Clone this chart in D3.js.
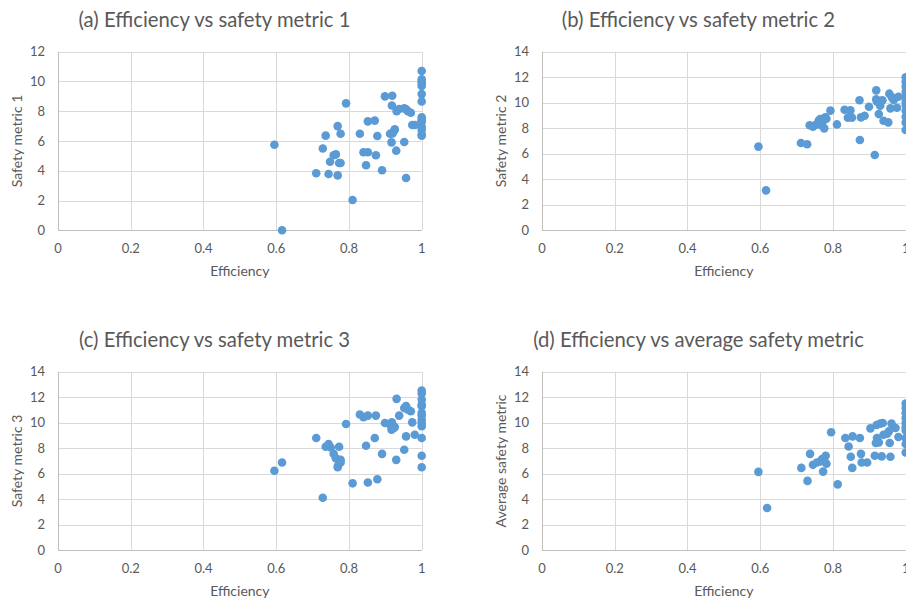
<!DOCTYPE html>
<html>
<head>
<meta charset="utf-8">
<script src="https://cdn.jsdelivr.net/npm/d3@7"></script>
<style>
  body { margin: 0; background: #fff; }
  svg { display: block; }
  text { font-family: Lato, "Open Sans", sans-serif; fill: #595959; }
</style>
</head>
<body>
<div id="theChart"></div>
<script>
// [efficiency, metric] pairs
const metric1 = [
  [0.595, 5.75], [0.616, 0], [0.71, 3.83], [0.728, 5.5], [0.736, 6.36], [0.744, 3.78],
  [0.748, 4.61], [0.758, 5.04], [0.764, 5.1], [0.769, 7.0], [0.769, 3.69], [0.773, 4.52],
  [0.777, 4.52], [0.777, 6.49], [0.792, 8.53], [0.81, 2.04], [0.83, 6.49], [0.84, 5.24],
  [0.847, 4.37], [0.852, 5.24], [0.852, 7.32], [0.871, 7.37], [0.874, 5.04], [0.878, 6.34],
  [0.891, 4.03], [0.899, 9.0], [0.913, 6.49], [0.917, 5.91], [0.918, 8.39], [0.919, 9.04],
  [0.92, 6.51], [0.924, 6.69], [0.926, 6.78], [0.93, 5.35], [0.931, 8.01], [0.938, 8.15],
  [0.952, 8.19], [0.952, 5.93], [0.957, 3.51], [0.957, 8.13], [0.962, 8.01], [0.97, 7.9],
  [0.974, 7.07], [0.981, 7.07],
  [1, 10.7], [1, 10.15], [1, 10.0], [1, 9.85], [1, 9.7], [1, 9.15], [1, 8.65], [1, 7.6],
  [1, 7.4], [1, 7.3], [1, 6.95], [1, 6.75], [1, 6.45], [1, 6.35]
]

const metric2 = [
  [0.595, 6.56], [0.616, 3.13], [0.712, 6.84], [0.729, 6.74], [0.736, 8.23], [0.745, 8.12],
  [0.752, 8.25], [0.761, 8.6], [0.765, 8.72], [0.768, 8.23], [0.773, 8.57], [0.776, 7.99],
  [0.779, 8.85], [0.782, 8.75], [0.793, 9.38], [0.811, 8.3], [0.832, 9.45], [0.841, 8.83],
  [0.848, 9.4], [0.852, 8.83], [0.873, 10.19], [0.874, 7.08], [0.877, 8.85], [0.887, 8.98],
  [0.899, 9.69], [0.915, 5.9], [0.919, 10.97], [0.919, 10.26], [0.921, 10.08], [0.926, 9.11],
  [0.93, 9.77], [0.933, 10.13], [0.936, 10.2], [0.939, 8.59], [0.952, 8.46], [0.955, 10.71],
  [0.958, 9.56], [0.962, 10.42], [0.967, 10.21], [0.976, 9.61], [0.98, 10.47],
  [1, 11.99], [1, 11.65], [1, 11.26], [1, 10.86], [1, 10.47], [1, 10.08], [1, 9.82],
  [1, 9.38], [1, 8.9], [1, 8.44], [1, 7.86]
]

const metric3 = [
  [0.595, 6.23], [0.616, 6.88], [0.71, 8.8], [0.728, 4.12], [0.736, 8.12], [0.744, 8.33],
  [0.75, 8.06], [0.758, 7.56], [0.764, 7.22], [0.769, 6.51], [0.77, 6.65], [0.773, 8.12],
  [0.777, 7.09], [0.777, 6.88], [0.792, 9.9], [0.81, 5.25], [0.83, 10.64], [0.84, 10.43],
  [0.847, 8.2], [0.852, 10.56], [0.852, 5.31], [0.871, 8.8], [0.874, 10.56], [0.878, 5.57],
  [0.891, 7.56], [0.899, 9.98], [0.913, 9.85], [0.917, 9.46], [0.918, 10.03], [0.92, 9.77],
  [0.924, 9.59], [0.926, 9.67], [0.93, 7.09], [0.931, 11.87], [0.938, 10.56], [0.952, 11.16],
  [0.952, 7.88], [0.957, 8.93], [0.957, 11.3], [0.962, 11.03], [0.97, 10.9], [0.974, 10.03],
  [0.981, 9.06],
  [1, 12.53], [1, 12.3], [1, 11.82], [1, 11.43], [1, 11.3], [1, 10.77], [1, 10.56],
  [1, 10.24], [1, 9.98], [1, 9.72], [1, 8.8], [1, 7.41], [1, 6.51]
]

const metricAvg = [
  [0.595, 6.15], [0.619, 3.31], [0.713, 6.46], [0.73, 5.44], [0.737, 7.56], [0.745, 6.7],
  [0.756, 6.88], [0.765, 6.96], [0.77, 7.15], [0.773, 6.17], [0.776, 7.04], [0.78, 7.41],
  [0.782, 6.78], [0.795, 9.25], [0.813, 5.17], [0.834, 8.8], [0.843, 8.14], [0.849, 7.33],
  [0.853, 6.46], [0.854, 8.93], [0.874, 8.8], [0.877, 7.56], [0.879, 6.88], [0.894, 6.88],
  [0.903, 9.56], [0.915, 7.41], [0.918, 8.41], [0.92, 9.82], [0.921, 8.8], [0.926, 8.46],
  [0.93, 9.93], [0.934, 7.36], [0.937, 9.98], [0.939, 9.06], [0.949, 9.14], [0.954, 9.33],
  [0.956, 8.41], [0.958, 7.33], [0.961, 9.93], [0.972, 9.59], [0.98, 8.88],
  [1, 11.5], [1, 11.16], [1, 10.77], [1, 10.38], [1, 9.98], [1, 9.67], [1, 9.4],
  [1, 8.8], [1, 8.33], [1, 7.67]
]

const xTicks = [0, 0.2, 0.4, 0.6, 0.8, 1]
const yTicks12 = [0, 2, 4, 6, 8, 10, 12]
const yTicks14 = [0, 2, 4, 6, 8, 10, 12, 14]

const panels = [
  { title: "(a) Efficiency vs safety metric 1", yLabel: "Safety metric 1", data: metric1, yMax: 12, ticks: yTicks12, ox: 0, oy: 0 },
  { title: "(b) Efficiency vs safety metric 2", yLabel: "Safety metric 2", data: metric2, yMax: 14, ticks: yTicks14, ox: 484, oy: 0 },
  { title: "(c) Efficiency vs safety metric 3", yLabel: "Safety metric 3", data: metric3, yMax: 14, ticks: yTicks14, ox: 0, oy: 320 },
  { title: "(d) Efficiency vs average safety metric", yLabel: "Average safety metric", data: metricAvg, yMax: 14, ticks: yTicks14, ox: 484, oy: 320 },
]

const w = 906
const h = 601

const svg = d3
  .select("#theChart")
  .append("svg")
  .attr("width", w)
  .attr("height", h)

panels.forEach(p => {
  const g = svg.append("g").attr("transform", `translate(${p.ox}, ${p.oy})`)

  const x = d3.scaleLinear().domain([0, 1]).range([58, 421.7])
  const y = d3.scaleLinear().domain([0, p.yMax]).range([230.3, 51.7])

  // gridlines
  g.selectAll(".hgrid")
    .data(p.ticks)
    .enter()
    .append("line")
    .attr("x1", x(0))
    .attr("x2", x(1))
    .attr("y1", d => Math.round(y(d)) + 0.5)
    .attr("y2", d => Math.round(y(d)) + 0.5)
    .attr("stroke", "#d9d9d9")
    .attr("stroke-width", 1)

  g.selectAll(".vgrid")
    .data(xTicks)
    .enter()
    .append("line")
    .attr("x1", d => Math.round(x(d)) + 0.5)
    .attr("x2", d => Math.round(x(d)) + 0.5)
    .attr("y1", y(p.yMax))
    .attr("y2", y(0))
    .attr("stroke", "#d9d9d9")
    .attr("stroke-width", 1)

  // axis lines
  g.append("line")
    .attr("x1", x(0)).attr("x2", x(1))
    .attr("y1", Math.round(y(0)) + 0.5).attr("y2", Math.round(y(0)) + 0.5)
    .attr("stroke", "#bfbfbf")
  g.append("line")
    .attr("x1", Math.round(x(0)) + 0.5).attr("x2", Math.round(x(0)) + 0.5)
    .attr("y1", y(p.yMax)).attr("y2", y(0))
    .attr("stroke", "#bfbfbf")

  // tick labels
  g.selectAll(".ytick")
    .data(p.ticks)
    .enter()
    .append("text")
    .attr("x", 45)
    .attr("y", d => y(d))
    .attr("dy", "0.35em")
    .attr("text-anchor", "end")
    .style("font-size", "13px")
    .text(d => d)

  g.selectAll(".xtick")
    .data(xTicks)
    .enter()
    .append("text")
    .attr("x", d => x(d))
    .attr("y", y(0) + 22.5)
    .attr("text-anchor", "middle")
    .style("font-size", "13px")
    .text(d => d)

  // points
  g.selectAll("circle")
    .data(p.data)
    .enter()
    .append("circle")
    .attr("cx", d => x(d[0]))
    .attr("cy", d => y(d[1]))
    .attr("r", 4.3)
    .attr("fill", "#5b9bd5")

  // titles
  g.append("text")
    .attr("x", 214.5)
    .attr("y", 27)
    .attr("text-anchor", "middle")
    .style("font-size", "20.3px")
    .text(p.title)

  g.append("text")
    .attr("x", (x(0) + x(1)) / 2)
    .attr("y", y(0) + 46)
    .attr("text-anchor", "middle")
    .style("font-size", "14px")
    .text("Efficiency")

  g.append("text")
    .attr("transform", `translate(17, ${(y(0) + y(p.yMax)) / 2}) rotate(-90)`)
    .attr("dy", "0.35em")
    .attr("text-anchor", "middle")
    .style("font-size", "14px")
    .text(p.yLabel)
})
</script>
</body>
</html>
